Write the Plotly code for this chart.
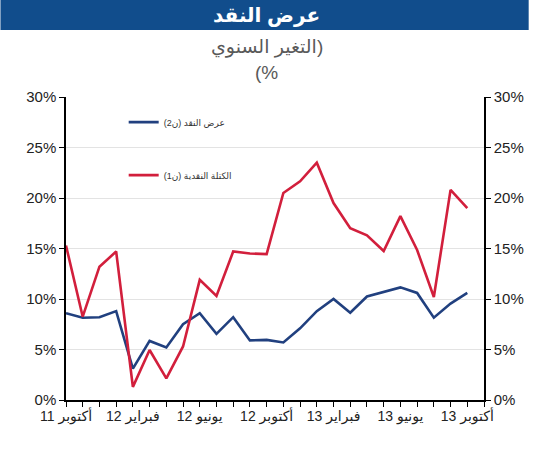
"""
Money supply chart: annual change (%), M1 vs M2
"""

import plotly.graph_objects as go

# Data (monthly, Oct 2011 -> Oct 2013), annual change in %
months = list(range(25))
m2_values = [8.6, 8.15, 8.2, 8.8, 3.1, 5.85, 5.2, 7.5, 8.6, 6.55, 8.2, 5.9, 5.95,
             5.7, 7.1, 8.8, 10.0, 8.65, 10.25, 10.7, 11.15, 10.6, 8.15, 9.55, 10.6]
m1_values = [15.3, 8.25, 13.2, 14.7, 1.3, 4.95, 2.15, 5.3, 11.9, 10.3, 14.7, 14.5, 14.45,
             20.5, 21.65, 23.5, 19.5, 17.0, 16.3, 14.75, 18.2, 14.85, 10.2, 20.8, 19.0]

tick_positions = list(range(26))
tick_labels = {0: 'أكتوبر 11', 4: 'فبراير 12', 8: 'يونيو 12', 12: 'أكتوبر 12',
               16: 'فبراير 13', 20: 'يونيو 13', 24: 'أكتوبر 13'}
y_ticks = [0, 5, 10, 15, 20, 25, 30]
y_labels = [f'{v}%' for v in y_ticks]

title_text = 'عرض النقد'
subtitle_lines = ['\u200f(التغير السنوي', '\u200f%)\u200f']
m2_name = '\u200fعرض النقد (ن2)\u200f'
m1_name = '\u200fالكتلة النقدية (ن1)\u200f'

BLUE = '#21407F'
RED = '#D21F3C'
FONT = 'Liberation Sans, Arial, DejaVu Sans, sans-serif'


def py(px):
    # pixel row (from top of page) -> paper y, plot area spans rows 97..400
    return (400 - px) / 303


def px_x(px):
    # pixel column -> paper x, plot area spans columns 66..487
    return (px - 66) / 421


fig = go.Figure()

fig.add_trace(go.Scatter(
    x=months, y=m2_values, mode='lines', name=m2_name,
    legendgroup='m2', line=dict(color=BLUE, width=2.6)
))
# same scale on both sides; the red series sits on the right axis so it gets drawn
fig.add_trace(go.Scatter(
    x=months, y=m1_values, mode='lines', name=m1_name, yaxis='y2',
    legendgroup='m1', line=dict(color=RED, width=2.6)
))

# title bar
fig.add_shape(type='rect', xref='paper', yref='paper',
              x0=px_x(0), x1=px_x(532), y0=py(30), y1=py(-2),
              fillcolor='#114D8C', line=dict(width=0), layer='below')
fig.add_annotation(text='<b>' + title_text + '</b>', xref='paper', yref='paper',
                   x=px_x(268), y=py(15), xanchor='center', yanchor='middle',
                   showarrow=False, font=dict(size=20, color='white', family=FONT))
fig.add_annotation(text=subtitle_lines[0], xref='paper', yref='paper',
                   x=px_x(268), y=py(47), xanchor='center', yanchor='middle',
                   showarrow=False, font=dict(size=19, color='#595959', family=FONT))
fig.add_annotation(text=subtitle_lines[1], xref='paper', yref='paper',
                   x=px_x(268), y=py(73), xanchor='center', yanchor='middle',
                   showarrow=False, font=dict(size=19, color='#595959', family=FONT))

fig.update_layout(
    width=536, height=450,
    margin=dict(l=66, r=49, t=97, b=50),
    paper_bgcolor='white', plot_bgcolor='white',
    font=dict(family=FONT, color='#222222'),
    showlegend=True,
    legend=dict(x=0.138, y=0.965, xanchor='left', yanchor='top',
                bgcolor='rgba(0,0,0,0)', font=dict(size=9, color='#333333'),
                tracegroupgap=34, traceorder='grouped'),
    xaxis=dict(range=[0, 25], tickmode='array', tickvals=tick_positions,
               ticktext=[tick_labels.get(i, '') for i in tick_positions],
               ticks='outside', ticklen=5, tickcolor='black',
               ticklabelstandoff=-3,
               showline=True, linecolor='black', linewidth=1.5,
               showgrid=False, zeroline=False,
               tickfont=dict(size=14, color='#222222')),
    yaxis=dict(range=[0, 30], tickmode='array', tickvals=y_ticks, ticktext=y_labels,
               ticks='outside', ticklen=5, tickcolor='black',
               showline=True, linecolor='black', linewidth=1.5,
               showgrid=True, gridcolor='#E3E3E3', gridwidth=1, zeroline=False,
               tickfont=dict(size=15, color='#222222')),
    yaxis2=dict(range=[0, 30], tickmode='array', tickvals=y_ticks, ticktext=y_labels,
                overlaying='y', side='right', anchor='x',
                ticks='outside', ticklen=5, tickcolor='black',
                showline=True, linecolor='black', linewidth=1.5,
                showgrid=False, zeroline=False,
                tickfont=dict(size=15, color='#222222')),
)

# page body has a default 8px margin; drop it so the figure fills the window
fig.write_html("out.html", config={'displayModeBar': False},
               post_script="document.body.style.margin='0px';")
